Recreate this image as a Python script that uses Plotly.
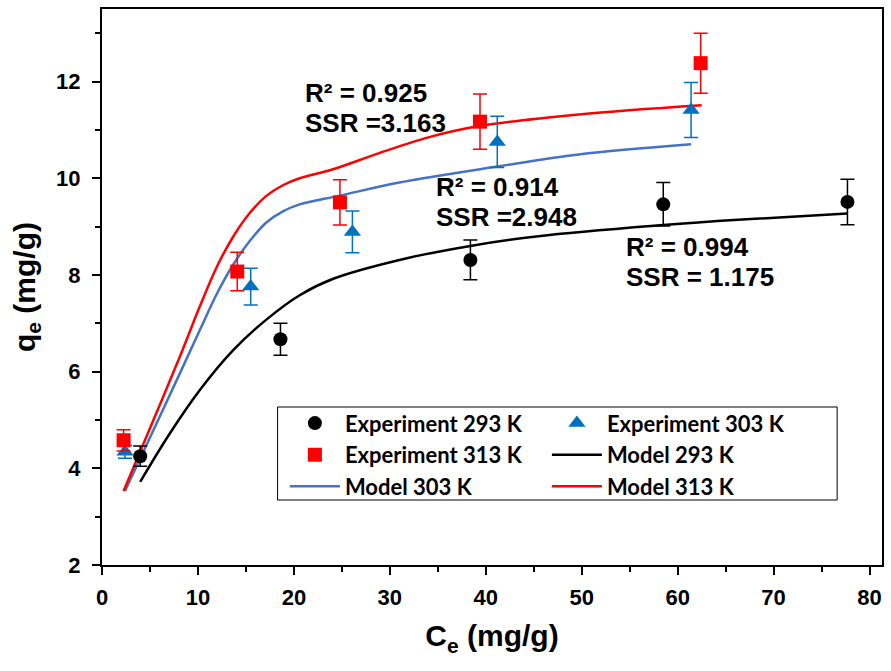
import plotly.graph_objects as go

# Experimental equilibrium data (Ce in mg/g, qe in mg/g, error = std. dev.)
ce_293 = [3.98, 18.6, 38.4, 58.5, 77.7]
qe_293 = [4.25, 6.67, 8.31, 9.46, 9.51]
err_293 = [0.21, 0.33, 0.41, 0.45, 0.47]

ce_303 = [2.4, 15.5, 26.1, 41.2, 61.4]
qe_303 = [4.34, 7.76, 8.89, 10.75, 11.41]
err_303 = [0.13, 0.38, 0.43, 0.53, 0.57]

ce_313 = [2.25, 14.1, 24.8, 39.4, 62.4]
qe_313 = [4.58, 8.07, 9.50, 11.17, 12.38]
err_313 = [0.22, 0.40, 0.47, 0.57, 0.62]

# Fitted model curves (Ce, qe) sampled along each isotherm
model_293_ce = [3.98, 7.0, 10.2, 13.7, 17.1, 20.6, 24.1, 31.0, 38.4, 45.5, 58.5, 66.3, 77.7]
model_293_qe = [3.72, 4.70, 5.62, 6.45, 7.07, 7.58, 7.92, 8.31, 8.60, 8.80, 9.03, 9.14, 9.27]

model_303_ce = [2.4, 5.5, 8.2, 10.2, 12.0, 13.7, 15.4, 17.1, 18.9, 20.6, 24.8, 31.0, 41.2, 49.7, 61.4]
model_303_qe = [3.53, 4.85, 6.00, 6.86, 7.62, 8.22, 8.70, 9.08, 9.32, 9.46, 9.64, 9.91, 10.24, 10.49, 10.70]

model_313_ce = [2.25, 5.0, 8.1, 10.2, 12.0, 13.7, 15.4, 17.1, 18.9, 20.6, 24.0, 28.9, 34.1, 39.3, 49.7, 62.5]
model_313_qe = [3.53, 4.83, 6.30, 7.35, 8.18, 8.80, 9.28, 9.63, 9.86, 10.00, 10.18, 10.52, 10.85, 11.08, 11.32, 11.51]

fit_labels = [
    ("R² = 0.925", "SSR =3.163"),
    ("R² = 0.914", "SSR =2.948"),
    ("R² = 0.994", "SSR = 1.175"),
]

BLACK = "#000000"
BLUE_MK = "#0070C0"
BLUE_LN = "#4472C4"
RED = "#FF0000"

AXIS_FONT = dict(family="Liberation Sans, Arial, sans-serif", color="#000000", weight="bold")
LEGEND_FONT = dict(family="Lato, sans-serif", size=22, color="#000000", weight="bold")

fig = go.Figure()

# model curves (drawn first so markers sit on top)
for name, xs, ys, col, rank in [
    ("Model 293 K", model_293_ce, model_293_qe, BLACK, 4),
    ("Model 303 K", model_303_ce, model_303_qe, BLUE_LN, 5),
    ("Model 313 K", model_313_ce, model_313_qe, RED, 6),
]:
    fig.add_trace(go.Scatter(
        x=xs, y=ys, mode="lines", name=name, legendrank=rank,
        line=dict(color=col, width=2.5, shape="spline", smoothing=1.0),
    ))

# experimental points with error bars
for name, xs, ys, es, col, sym, size, rank in [
    ("Experiment 293 K", ce_293, qe_293, err_293, BLACK, "circle", 14, 1),
    ("Experiment 303 K", ce_303, qe_303, err_303, BLUE_MK, "triangle-up", 15, 2),
    ("Experiment 313 K", ce_313, qe_313, err_313, RED, "square", 14, 3),
]:
    fig.add_trace(go.Scatter(
        x=xs, y=ys, mode="markers", name=name, legendrank=rank,
        marker=dict(color=col, symbol=sym, size=size, line=dict(width=0)),
        error_y=dict(type="data", array=es, visible=True, color=col,
                     thickness=1.5, width=7),
    ))

# fit statistics
label_pos = [(21.0, 11.76, 11.14), (34.6, 9.82, 9.20), (54.4, 8.58, 7.96)]
for (l1, l2), (x, y1, y2) in zip(fit_labels, label_pos):
    for txt, y in ((l1, y1), (l2, y2)):
        fig.add_annotation(
            x=x, y=y, text=txt, showarrow=False, xanchor="left", yanchor="middle",
            font=dict(AXIS_FONT, size=26),
        )

# legend frame
fig.add_shape(type="rect", xref="paper", yref="paper",
              x0=0.2251, x1=0.9425, y0=0.1169, y1=0.2842,
              line=dict(color="#000000", width=1), fillcolor="rgba(0,0,0,0)")

fig.update_layout(
    width=891, height=671,
    margin=dict(l=102, r=7, t=9, b=106),
    paper_bgcolor="white", plot_bgcolor="white",
    showlegend=True,
    legend=dict(
        orientation="h", x=0.2345, y=0.2926, xanchor="left", yanchor="top",
        entrywidth=197, itemwidth=50, font=LEGEND_FONT,
        bgcolor="rgba(0,0,0,0)", borderwidth=0,
    ),
)

fig.update_xaxes(
    range=[0, 81.3], tickvals=[0, 10, 20, 30, 40, 50, 60, 70, 80],
    showline=True, linecolor="#000000", linewidth=2, mirror=True,
    ticks="outside", ticklen=8, tickwidth=2, tickcolor="#000000",
    minor=dict(ticks="outside", dtick=5, tick0=0, ticklen=5, tickwidth=2, tickcolor="#000000"),
    showgrid=False, zeroline=False, ticklabelstandoff=4,
    tickfont=dict(AXIS_FONT, size=22),
    title=dict(text="C<sub>e</sub> (mg/g)", font=dict(AXIS_FONT, size=30), standoff=16),
)
fig.update_yaxes(
    range=[2, 13.5], tickvals=[2, 4, 6, 8, 10, 12],
    showline=True, linecolor="#000000", linewidth=2, mirror=True,
    ticks="outside", ticklen=8, tickwidth=2, tickcolor="#000000",
    minor=dict(ticks="outside", dtick=1, tick0=1, ticklen=5, tickwidth=2, tickcolor="#000000"),
    showgrid=False, zeroline=False, ticklabelstandoff=7,
    tickfont=dict(AXIS_FONT, size=22),
    title=dict(text="q<sub>e</sub> (mg/g)", font=dict(AXIS_FONT, size=30), standoff=12),
)

fig.write_html("out.html")
